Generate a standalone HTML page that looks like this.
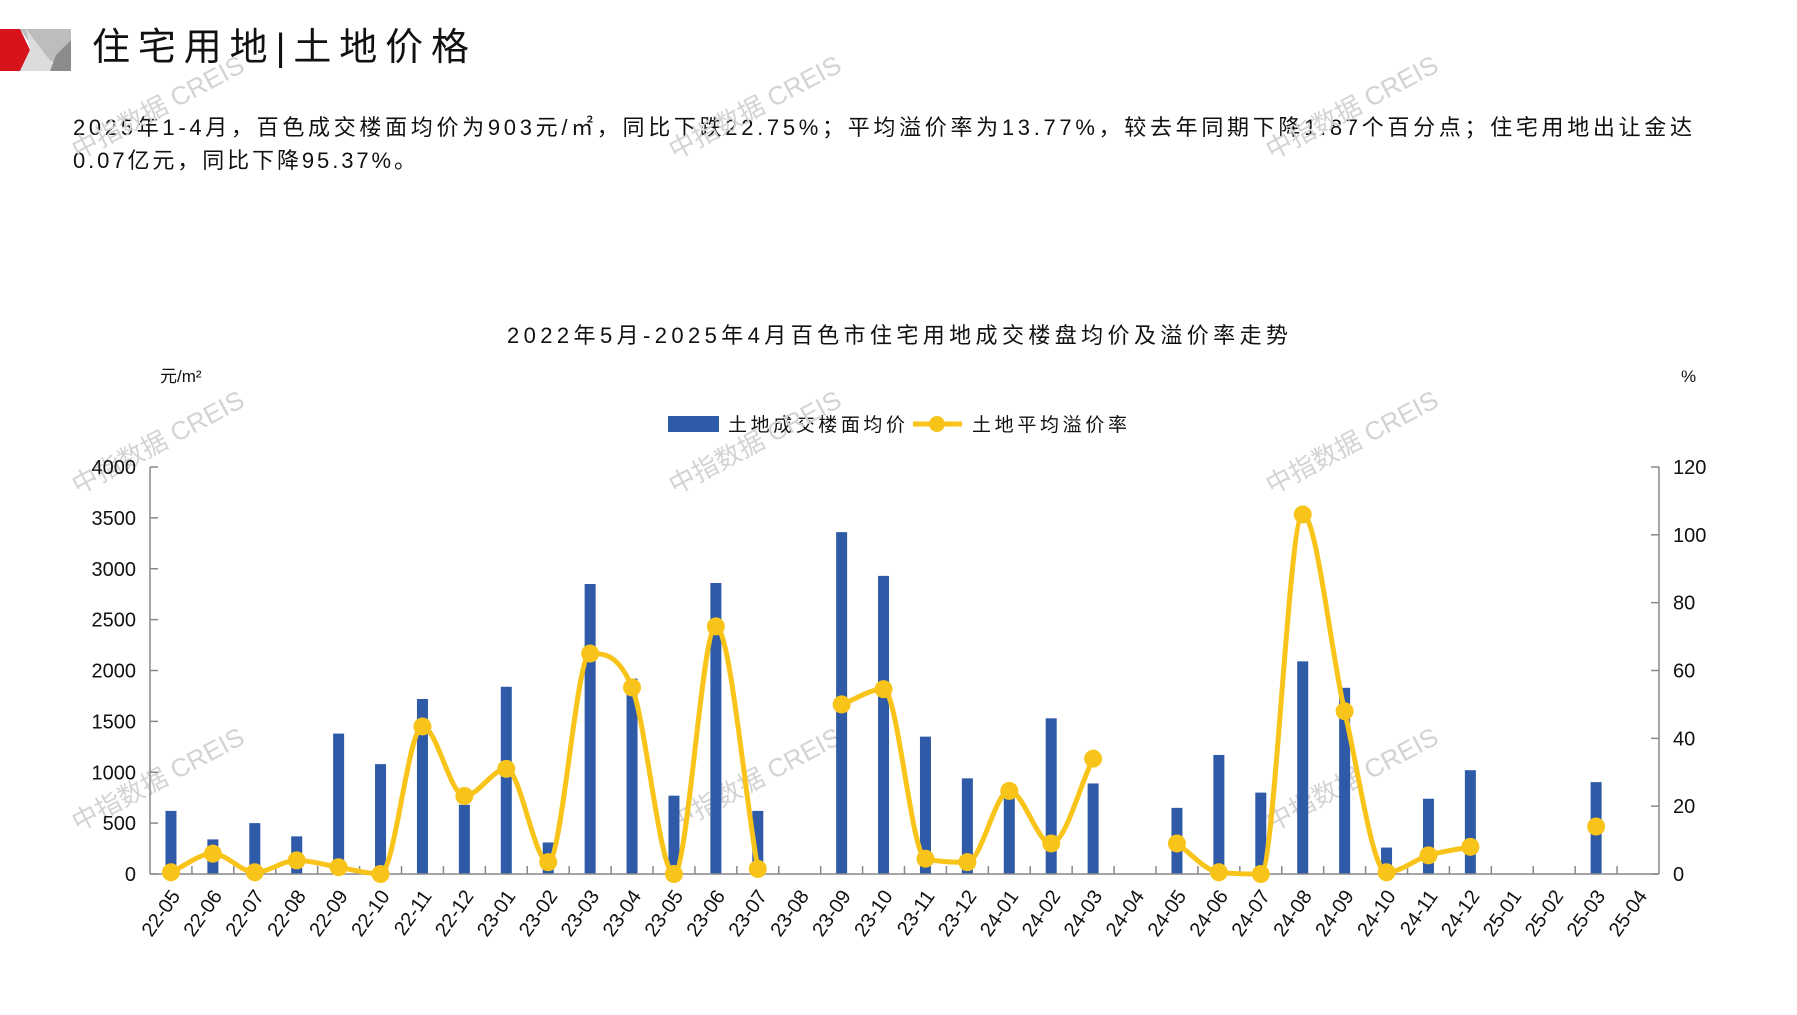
<!DOCTYPE html>
<html><head><meta charset="utf-8">
<style>
html,body{margin:0;padding:0;background:#fff;}
body{width:1797px;height:1010px;overflow:hidden;position:relative;font-family:"Liberation Sans","Noto Sans CJK SC",sans-serif;}
svg text{font-family:"Liberation Sans","Noto Sans CJK SC",sans-serif;}
</style></head><body>
<svg id="s" width="1797" height="1010" viewBox="0 0 1797 1010" xmlns="http://www.w3.org/2000/svg">
<polygon points="0,29 20,29 30,50 20,71 0,71" fill="#d7141b"/>
<polygon points="20,29 71,29 71,71 66,71 34,50" fill="#bdbdbd"/>
<polygon points="26,29 58,71 20,71 30,50" fill="#dcdcdc"/>
<polygon points="71,40 71,71 50,71 56,55" fill="#8c8c8c"/>
<text x="92" y="60" font-size="38" fill="#111" textLength="377">住宅用地|土地价格</text>
<text x="73" y="135" font-size="22" fill="#111" textLength="1619">2025年1-4月，百色成交楼面均价为903元/㎡，同比下跌22.75%；平均溢价率为13.77%，较去年同期下降1.87个百分点；住宅用地出让金达</text>
<text x="73" y="168" font-size="22" fill="#111" textLength="343">0.07亿元，同比下降95.37%。</text>
<text x="507" y="343" font-size="22" fill="#111" textLength="781">2022年5月-2025年4月百色市住宅用地成交楼盘均价及溢价率走势</text>
<text x="160" y="382" font-size="17" fill="#111">元/m²</text>
<text x="1681" y="382" font-size="17" fill="#111">%</text>
<rect x="668" y="416" width="51" height="16" fill="#2f5aa8"/>
<text x="728" y="431" font-size="19" fill="#111" textLength="177">土地成交楼面均价</text>
<line x1="913" y1="424" x2="962" y2="424" stroke="#f9c41a" stroke-width="5"/>
<circle cx="937" cy="424" r="8" fill="#f9c41a"/>
<text x="972" y="431" font-size="19" fill="#111" textLength="155">土地平均溢价率</text>
<g id="g"></g>
</svg>
<script>
var g=document.getElementById('g'),NS='http://www.w3.org/2000/svg';
function el(t,a,txt){var e=document.createElementNS(NS,t);for(var k in a)e.setAttribute(k,a[k]);if(txt!=null)e.textContent=txt;g.appendChild(e);return e;}
var L=150,R=1659,Y0=874,YT=467,H=Y0-YT,n=36,cw=(R-L)/n;
var labels=[],y=22,m=5;for(var i=0;i<n;i++){labels.push(y+'-'+(m<10?'0'+m:m));m++;if(m>12){m=1;y++;}}
var price=[620,340,500,370,1380,1080,1720,680,1840,310,2850,1920,770,2860,620,0,3360,2930,1350,940,780,1530,890,0,650,1170,800,2090,1830,260,740,1020,0,0,903,0];
var rate=[0.5,6,0.5,4,2,0,43.5,23,31,3.5,65,55,0,73,1.5,null,50,54.5,4.5,3.5,24.5,9,34,null,9,0.5,0,106,48,0.5,5.5,8,null,null,14,null];
[[78,160],[675,160],[1272,160],[78,495],[675,495],[1272,495],[78,832],[675,832],[1272,832]].forEach(function(p){
el('text',{x:p[0],y:p[1],'font-size':26,fill:'#d3d3d3',transform:'rotate(-28 '+p[0]+' '+p[1]+')'},'中指数据 CREIS');});
el('line',{x1:L,y1:YT,x2:L,y2:Y0,stroke:'#888','stroke-width':1.5});
el('line',{x1:R,y1:YT,x2:R,y2:Y0,stroke:'#888','stroke-width':1.5});
for(var v=0;v<=4000;v+=500){var yy=Y0-v/4000*H;el('line',{x1:L,y1:yy,x2:L+8,y2:yy,stroke:'#888','stroke-width':1.5});
el('text',{x:L-14,y:yy+7,'font-size':20,'text-anchor':'end',fill:'#111'},v);}
for(var v=0;v<=120;v+=20){var yy=Y0-v/120*H;el('line',{x1:R-8,y1:yy,x2:R,y2:yy,stroke:'#888','stroke-width':1.5});
el('text',{x:R+14,y:yy+7,'font-size':20,fill:'#111'},v);}
for(var i=0;i<n;i++){var cx=L+cw*(i+0.5);
if(price[i]>0){var h=price[i]/4000*H;el('rect',{x:cx-5.5,y:Y0-h,width:11,height:h,fill:'#2f5aa8'});}
el('text',{x:cx+10,y:Y0+22,'font-size':20,'text-anchor':'end',fill:'#111',transform:'rotate(-55 '+(cx+10)+' '+(Y0+22)+')'},labels[i]);}
el('line',{x1:L,y1:Y0,x2:R,y2:Y0,stroke:'#888','stroke-width':1.5});
for(var i=1;i<n;i++){var tx=L+cw*i;el('line',{x1:tx,y1:Y0,x2:tx,y2:Y0-8,stroke:'#888','stroke-width':1.5});}
var pts=rate.map(function(r,i){return r==null?null:[L+cw*(i+0.5),Y0-r/120*H];});
var segs=[],cur=[];pts.forEach(function(p){if(p)cur.push(p);else{if(cur.length)segs.push(cur);cur=[];}});if(cur.length)segs.push(cur);
segs.forEach(function(s){if(s.length<2)return;var N=s.length,d=[],mk=[],i;
for(i=0;i<N-1;i++)d.push((s[i+1][1]-s[i][1])/cw);
for(i=0;i<N;i++){if(i==0)mk.push(d[0]);else if(i==N-1)mk.push(d[N-2]);else mk.push(d[i-1]*d[i]<=0?0:(d[i-1]+d[i])/2);}
for(i=0;i<N-1;i++){if(d[i]==0){mk[i]=0;mk[i+1]=0;continue;}var a=mk[i]/d[i],b=mk[i+1]/d[i],t=a*a+b*b;if(t>9){t=3/Math.sqrt(t);mk[i]=t*a*d[i];mk[i+1]=t*b*d[i];}}
var p='M'+s[0][0]+','+s[0][1];
for(i=0;i<N-1;i++){var h=cw/3;p+=' C'+(s[i][0]+h)+','+(s[i][1]+mk[i]*h)+' '+(s[i+1][0]-h)+','+(s[i+1][1]-mk[i+1]*h)+' '+s[i+1][0]+','+s[i+1][1];}
el('path',{d:p,fill:'none',stroke:'#f9c41a','stroke-width':5,'stroke-linejoin':'round'});});
pts.forEach(function(p){if(p)el('circle',{cx:p[0],cy:p[1],r:9,fill:'#f9c41a'});});
</script>
</body></html>
